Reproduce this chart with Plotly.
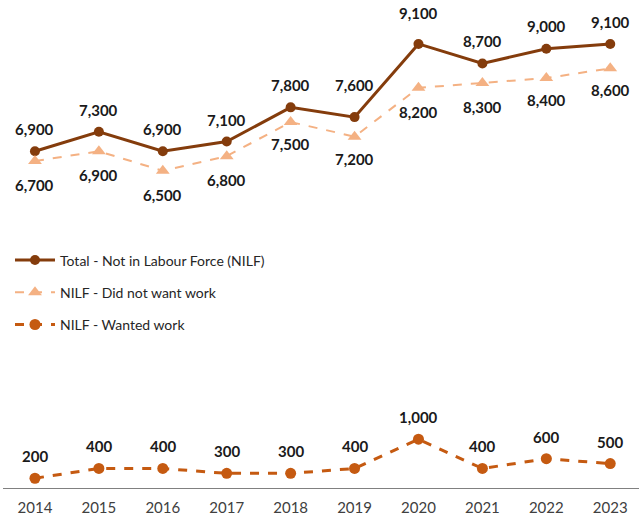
import plotly.graph_objects as go

years = ["2014", "2015", "2016", "2017", "2018", "2019", "2020", "2021", "2022", "2023"]
total_nilf = [6900, 7300, 6900, 7100, 7800, 7600, 9100, 8700, 9000, 9100]
did_not_want = [6700, 6900, 6500, 6800, 7500, 7200, 8200, 8300, 8400, 8600]
wanted_work = [200, 400, 400, 300, 300, 400, 1000, 400, 600, 500]

# vertical pixel offset of each data label relative to its point
total_shift = [22, 22, 22, 22, 22, 32, 31, 22, 23, 22]
dnw_shift = [-24, -24, -24, -24, -22, -22, -24, -24, -22, -22]
wanted_shift = [22, 22, 22, 22, 22, 22, 22, 22, 22, 22]

C_TOTAL = "#843C0C"
C_DNW = "#F4B183"
C_WANTED = "#C55A11"
FONT = "Lato"

x_idx = list(range(len(years)))

fig = go.Figure()
fig.add_trace(go.Scatter(
    x=x_idx, y=total_nilf, mode="lines+markers",
    name="Total - Not in Labour Force (NILF)",
    line=dict(color=C_TOTAL, width=3),
    marker=dict(color=C_TOTAL, size=10, symbol="circle"),
    legendgroup="a",
))
fig.add_trace(go.Scatter(
    x=x_idx, y=did_not_want, mode="lines+markers",
    name="NILF - Did not want work",
    line=dict(color=C_DNW, width=2, dash="dash"),
    marker=dict(color=C_DNW, size=12, symbol="triangle-up"),
    legendgroup="b",
))
fig.add_trace(go.Scatter(
    x=x_idx, y=wanted_work, mode="lines+markers",
    name="NILF - Wanted work",
    line=dict(color=C_WANTED, width=3, dash="dash"),
    marker=dict(color=C_WANTED, size=11, symbol="circle"),
    legendgroup="c",
))

annotations = []
for series, shifts in ((total_nilf, total_shift), (did_not_want, dnw_shift), (wanted_work, wanted_shift)):
    for i, (v, s) in enumerate(zip(series, shifts)):
        annotations.append(dict(
            x=i, y=v, xref="x", yref="y", text=f"{v:,}", showarrow=False,
            yshift=s, font=dict(family=FONT, size=15, color="#1a1a1a", weight="bold"),
        ))

fig.update_layout(
    width=639, height=521,
    margin=dict(l=3, r=0, t=0, b=33),
    plot_bgcolor="white", paper_bgcolor="white",
    font=dict(family=FONT, size=14, color="#262626"),
    showlegend=True,
    legend=dict(
        x=0.011, y=0.499, xanchor="left", yanchor="top",
        bgcolor="rgba(0,0,0,0)", tracegroupgap=11, itemwidth=40,
        font=dict(family=FONT, size=14, color="#262626"),
    ),
    annotations=annotations,
    xaxis=dict(
        range=[-0.5, 9.45], tickmode="array", tickvals=x_idx, ticktext=years,
        showgrid=False, zeroline=False, showline=True, linecolor="#808080", linewidth=1,
        ticks="outside", ticklen=6, tickcolor="rgba(0,0,0,0)",
        tickfont=dict(family=FONT, size=15, color="#404040"),
    ),
    yaxis=dict(range=[0, 10000], visible=False, showgrid=False, zeroline=False),
)

fig.write_html("out.html")
